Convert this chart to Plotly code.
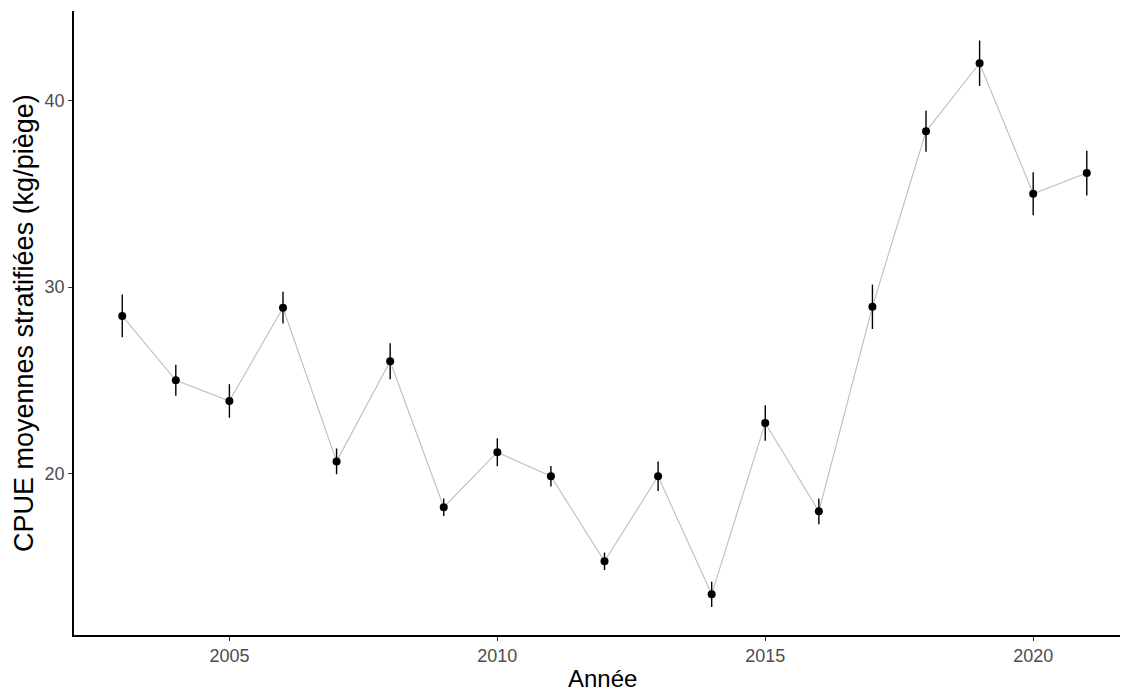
import plotly.graph_objects as go

years = list(range(2003, 2022))
cpue = [28.45, 25.0, 23.89, 28.89, 20.65, 26.02, 18.19, 21.14, 19.85, 15.29,
        19.85, 13.52, 22.71, 17.97, 28.94, 38.35, 42.0, 35.0, 36.11]
err = [1.15, 0.83, 0.90, 0.85, 0.69, 0.97, 0.47, 0.75, 0.55, 0.47,
       0.79, 0.68, 0.95, 0.69, 1.19, 1.10, 1.22, 1.15, 1.20]

W, H = 1123, 692
L, R, T, B = 74, 3, 11, 57
pw = W - L - R
ph = H - T - B

fig = go.Figure()
fig.add_trace(go.Scatter(
    x=years, y=cpue, mode="lines",
    line=dict(color="#BEBEBE", width=1.1),
    hoverinfo="skip", showlegend=False))
fig.add_trace(go.Scatter(
    x=years, y=cpue, mode="markers",
    marker=dict(color="black", size=8),
    error_y=dict(type="data", array=err, visible=True, color="black",
                 thickness=1.4, width=0),
    showlegend=False))

font = "Liberation Sans, Arial, sans-serif"
fig.update_layout(
    width=W, height=H,
    margin=dict(l=L, r=R, t=T, b=B, autoexpand=False),
    paper_bgcolor="white", plot_bgcolor="white",
    font=dict(family=font),
    xaxis=dict(range=[2002.1, 2021.62], tickvals=[2005, 2010, 2015, 2020],
               ticks="outside", ticklen=4, tickwidth=1, tickcolor="#333333",
               showline=True, linecolor="black", linewidth=1.6,
               showgrid=False, zeroline=False,
               tickfont=dict(size=18, color="#4D4D4D", family=font)),
    yaxis=dict(range=[11.34, 44.8], tickvals=[20, 30, 40],
               ticks="outside", ticklen=4, tickwidth=1, tickcolor="#333333",
               showline=True, linecolor="black", linewidth=1.6,
               showgrid=False, zeroline=False,
               tickfont=dict(size=18, color="#4D4D4D", family=font)),
    annotations=[
        dict(text="Année", xref="paper", yref="paper",
             x=(602 - L) / pw, y=-(678 - (T + ph)) / ph,
             showarrow=False, xanchor="center", yanchor="middle",
             font=dict(size=24, color="black", family=font)),
        dict(text="CPUE moyennes stratifiées (kg/piège)", xref="paper", yref="paper",
             x=(24 - L) / pw, y=1 - (323 - T) / ph, textangle=-90,
             showarrow=False, xanchor="center", yanchor="middle",
             font=dict(size=27, color="black", family=font)),
    ],
)
fig.write_html("out.html", config={"displayModeBar": False})

with open("out.html", "r", encoding="utf-8") as f:
    html = f.read()
html = html.replace("<head>", "<head><style>html,body{margin:0;padding:0;overflow:hidden;}</style>", 1)
with open("out.html", "w", encoding="utf-8") as f:
    f.write(html)
